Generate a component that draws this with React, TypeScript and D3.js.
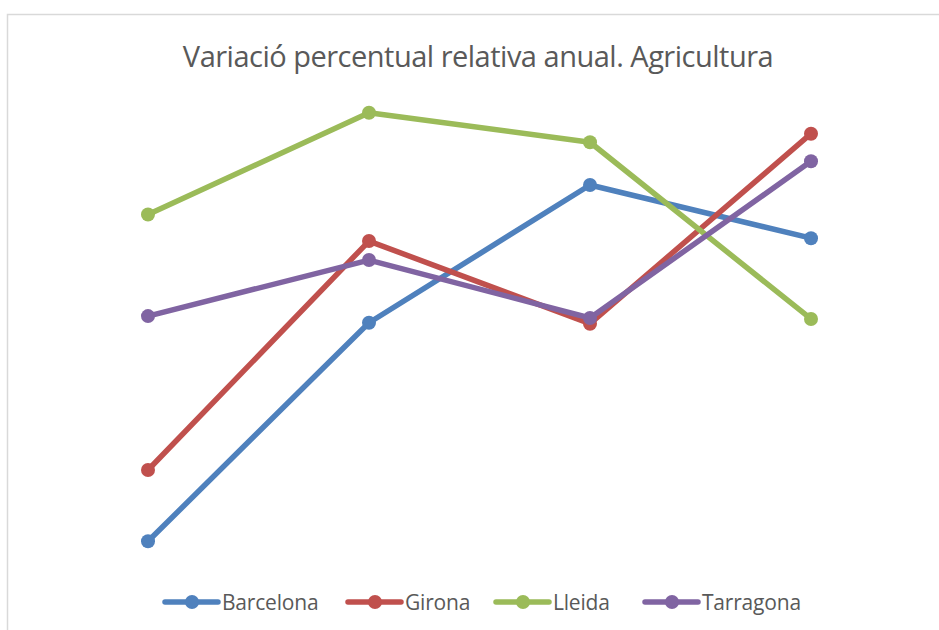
import React from "react";
import * as d3 from "d3";

const categories = ["2010", "2011", "2012", "2013"];
const seriesNames = ["Barcelona", "Girona", "Lleida", "Tarragona"];
const barcelona = [-13.75, -2.25, 5.0, 2.2];
const girona = [-10.0, 2.05, -2.3, 7.7];
const lleida = [3.45, 8.8, 7.25, -2.05];
const tarragona = [-1.9, 1.05, -2.0, 6.25];
const colors = ["#4F81BD", "#C0504D", "#9BBB59", "#8064A2"];
const title = "Variació percentual relativa anual. Agricultura";

const W = 939;
const H = 630;

export default function App() {
  const series = [barcelona, girona, lleida, tarragona];
  const x = d3.scaleBand<string>().domain(categories).range([37.5, 921.5]);
  const y = d3.scaleLinear().domain([-15, 10]).range([565, 90]);
  const line = d3
    .line<number>()
    .x((_, i) => (x(categories[i]) as number) + x.bandwidth() / 2)
    .y((d) => y(d));

  const legendX = [165, 348, 496, 645];
  const legendY = 602;
  const font = "'Open Sans', 'Liberation Sans', sans-serif";

  return (
    <svg
      width={W}
      height={H}
      style={{ position: "absolute", left: 0, top: 0, background: "#fff" }}
    >
      <rect x={0} y={0} width={W} height={H} fill="#fff" />
      <rect
        x={7.5}
        y={14.5}
        width={W + 10}
        height={H + 10}
        fill="none"
        stroke="#D9D9D9"
        strokeWidth={1.5}
      />
      <text
        x={478}
        y={67}
        textAnchor="middle"
        fill="#595959"
        fontFamily={font}
        fontSize={29}
        fontWeight={400}
        style={{ letterSpacing: "-0.5px" }}
      >
        {title}
      </text>
      {series.map((s, si) => (
        <g key={seriesNames[si]}>
          <path
            d={line(s) || ""}
            fill="none"
            stroke={colors[si]}
            strokeWidth={5.5}
            strokeLinejoin="round"
            strokeLinecap="round"
          />
          {s.map((v, i) => (
            <circle
              key={i}
              cx={(x(categories[i]) as number) + x.bandwidth() / 2}
              cy={y(v)}
              r={7}
              fill={colors[si]}
            />
          ))}
        </g>
      ))}
      {seriesNames.map((name, si) => (
        <g key={name} transform={`translate(${legendX[si]},${legendY})`}>
          <line
            x1={0}
            x2={53}
            y1={0}
            y2={0}
            stroke={colors[si]}
            strokeWidth={5.5}
            strokeLinecap="round"
          />
          <circle cx={27} cy={0} r={7} fill={colors[si]} />
          <text
            x={57}
            y={7.5}
            fill="#595959"
            fontFamily={font}
            fontSize={21}
            style={{ letterSpacing: "-0.2px" }}
          >
            {name}
          </text>
        </g>
      ))}
    </svg>
  );
}
